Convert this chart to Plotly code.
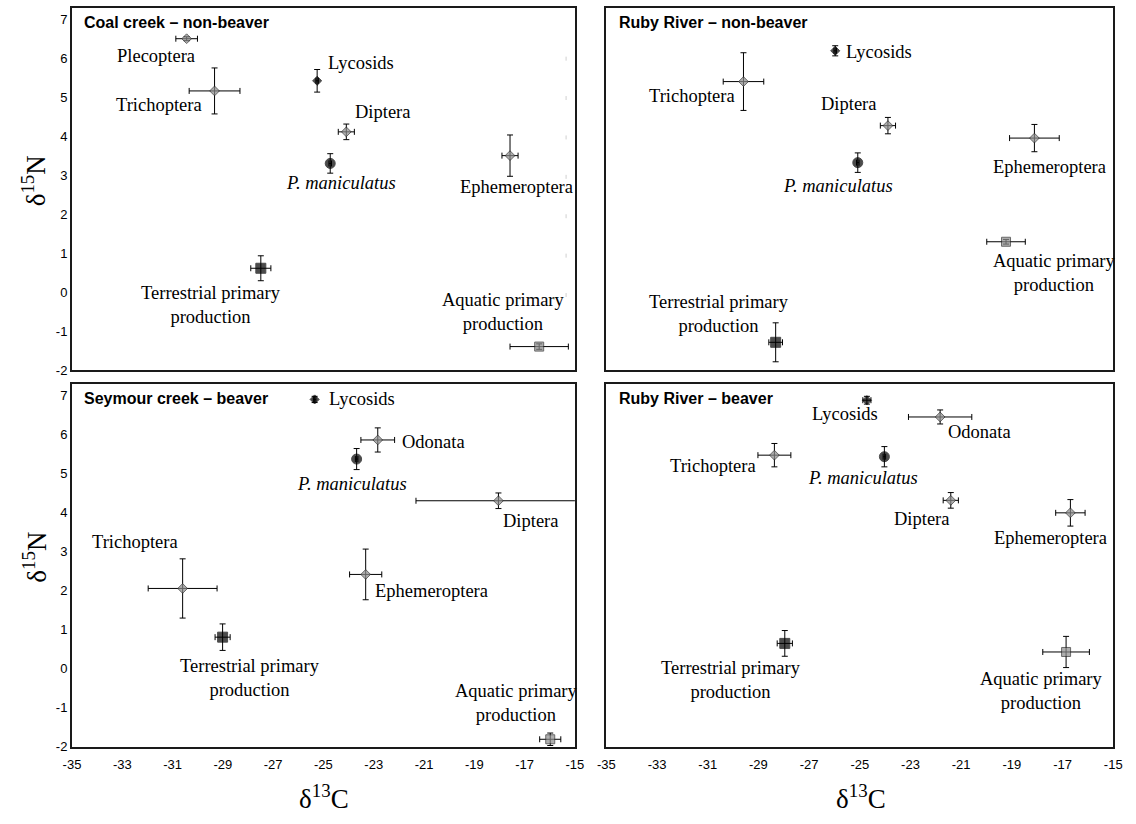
import plotly.graph_objects as go

# ---------------- data ----------------
# Coal creek – non-beaver
cc_names = ["Plecoptera", "Trichoptera", "Lycosids", "Diptera", "P. maniculatus",
            "Ephemeroptera", "Terrestrial primary<br>production", "Aquatic primary<br>production"]
cc_kind = ["taxon", "taxon", "lycosid", "taxon", "mouse", "taxon", "terr", "aqua"]
cc_x = [-30.44, -29.33, -25.25, -24.09, -24.73, -17.58, -27.49, -16.42]
cc_y = [6.51, 5.17, 5.43, 4.12, 3.31, 3.51, 0.62, -1.39]
cc_xerr = [0.43, 1.01, 0.05, 0.32, 0.05, 0.32, 0.40, 1.16]
cc_yerr = [0.05, 0.59, 0.29, 0.20, 0.25, 0.53, 0.32, 0.07]
cc_lx = [-31.67, -31.53, -23.51, -22.67, -24.31, -17.32, -29.47, -17.82]
cc_ly = [6.07, 4.80, 5.88, 4.62, 2.81, 2.70, -0.33, -0.50]

# Ruby River – non-beaver
rn_names = ["Lycosids", "Trichoptera", "Diptera", "Ephemeroptera", "P. maniculatus",
            "Aquatic primary<br>production", "Terrestrial primary<br>production"]
rn_kind = ["lycosid", "taxon", "taxon", "taxon", "mouse", "aqua", "terr"]
rn_x = [-25.97, -29.59, -23.89, -18.11, -25.08, -19.23, -28.32]
rn_y = [6.20, 5.41, 4.28, 3.96, 3.33, 1.30, -1.28]
rn_xerr = [0.05, 0.80, 0.30, 0.98, 0.05, 0.76, 0.27]
rn_yerr = [0.13, 0.74, 0.21, 0.35, 0.25, 0.06, 0.50]
rn_lx = [-24.23, -31.64, -25.45, -17.53, -25.87, -17.30, -30.55]
rn_ly = [6.16, 5.04, 4.84, 3.23, 2.72, 0.50, -0.56]

# Seymour creek – beaver
sc_names = ["Lycosids", "Odonata", "P. maniculatus", "Diptera", "Trichoptera",
            "Ephemeroptera", "Terrestrial primary<br>production", "Aquatic primary<br>production"]
sc_kind = ["lycosid", "taxon", "mouse", "taxon", "taxon", "taxon", "terr", "aqua"]
sc_x = [-25.35, -22.84, -23.68, -18.04, -30.60, -23.32, -29.01, -15.98]
sc_y = [6.91, 5.87, 5.38, 4.31, 2.06, 2.42, 0.81, -1.81]
sc_xerr = [0.05, 0.67, 0.05, 3.28, 1.37, 0.64, 0.30, 0.42]
sc_yerr = [0.08, 0.31, 0.27, 0.20, 0.76, 0.65, 0.34, 0.16]
sc_lx = [-23.47, -20.61, -23.86, -16.77, -32.51, -20.72, -27.91, -17.34]
sc_ly = [6.91, 5.83, 4.75, 3.80, 3.25, 2.00, -0.23, -0.88]

# Ruby River – beaver
rb_names = ["Lycosids", "Odonata", "Trichoptera", "P. maniculatus", "Diptera",
            "Ephemeroptera", "Terrestrial primary<br>production", "Aquatic primary<br>production"]
rb_kind = ["lycosid", "taxon", "taxon", "mouse", "taxon", "taxon", "terr", "aqua"]
rb_x = [-24.72, -21.83, -28.37, -24.03, -21.41, -16.69, -27.96, -16.86]
rb_y = [6.89, 6.46, 5.48, 5.44, 4.32, 4.00, 0.65, 0.43]
rb_xerr = [0.16, 1.25, 0.65, 0.05, 0.30, 0.58, 0.30, 0.92]
rb_yerr = [0.10, 0.18, 0.30, 0.26, 0.20, 0.34, 0.33, 0.40]
rb_lx = [-25.59, -20.28, -30.79, -24.88, -22.58, -17.47, -30.09, -17.85]
rb_ly = [6.53, 6.07, 5.20, 4.90, 3.85, 3.35, -0.30, -0.57]

panel_titles = ["Coal creek – non-beaver", "Ruby River – non-beaver",
                "Seymour creek – beaver", "Ruby River – beaver"]

x_ticks = [-35, -33, -31, -29, -27, -25, -23, -21, -19, -17, -15]
x_tick_text = ["-35", "-33", "-31", "-29", "-27", "-25", "-23", "-21", "-19", "-17", "-15"]
y_ticks = [-2, -1, 0, 1, 2, 3, 4, 5, 6, 7]
y_tick_text = ["-2", "-1", "0", "1", "2", "3", "4", "5", "6", "7"]

# ---------------- styles ----------------
STYLE = {
    "taxon":   dict(symbol="diamond", color="#8c8c8c", size=7.5, line="#2a2a2a"),
    "lycosid": dict(symbol="diamond", color="#000000", size=7, line="#000000"),
    "mouse":   dict(symbol="circle", color="#000000", size=10, line="#000000"),
    "terr":    dict(symbol="square", color="#000000", size=10, line="#000000"),
    "aqua":    dict(symbol="square", color="#8c8c8c", size=9, line="#2a2a2a"),
}

panels = [
    (cc_names, cc_kind, cc_x, cc_y, cc_xerr, cc_yerr, cc_lx, cc_ly),
    (rn_names, rn_kind, rn_x, rn_y, rn_xerr, rn_yerr, rn_lx, rn_ly),
    (sc_names, sc_kind, sc_x, sc_y, sc_xerr, sc_yerr, sc_lx, sc_ly),
    (rb_names, rb_kind, rb_x, rb_y, rb_xerr, rb_yerr, rb_lx, rb_ly),
]

W, H = 1136, 824
xdom_px = [(64, 575), (607, 1122)]
ydom_px = [(8, 374), (388, 754)]

def xdom(i):
    a, b = xdom_px[i]
    return [a / W, b / W]

def ydom(j):
    t, b = ydom_px[j]
    return [1 - b / H, 1 - t / H]

fig = go.Figure()
annotations = []
SERIF = "Liberation Serif, Times New Roman, serif"
SANS = "Liberation Sans, Arial, sans-serif"

for k, (names, kind, xs, ys, xe, ye, lx, ly) in enumerate(panels):
    col, row = k % 2, k // 2
    ax = "" if k == 0 else str(k + 1)
    xref, yref = "x" + ax, "y" + ax
    fig.add_trace(go.Scatter(
        x=xs, y=ys, mode="markers", xaxis=xref, yaxis=yref, showlegend=False,
        error_x=dict(type="data", array=xe, visible=True, color="black", thickness=1, width=3),
        error_y=dict(type="data", array=ye, visible=True, color="black", thickness=1, width=3),
        marker=dict(
            symbol=[STYLE[t]["symbol"] for t in kind],
            color=[STYLE[t]["color"] for t in kind],
            size=[STYLE[t]["size"] for t in kind],
            line=dict(color=[STYLE[t]["line"] for t in kind], width=1),
        ),
    ))
    for n, tx, ty in zip(names, lx, ly):
        txt = "<i>" + n + "</i>" if n.startswith("P. ") else n
        annotations.append(dict(
            x=tx, y=ty, xref=xref, yref=yref, text=txt, showarrow=False,
            font=dict(family=SERIF, size=18.5, color="black"),
            xanchor="center", yanchor="middle", align="center",
        ))
    annotations.append(dict(
        x=0.02, y=6.93, xref=xref + " domain", yref=yref, text="<b>" + panel_titles[k] + "</b>",
        showarrow=False, font=dict(family=SANS, size=16, color="black"),
        xanchor="left", yanchor="middle",
    ))
    axis_common = dict(showgrid=False, zeroline=False, ticks="", showline=True, mirror=True,
                       linecolor="#1a1a1a", linewidth=2)
    fig.update_layout(**{
        ("xaxis" + ax): dict(domain=xdom(col), range=[-35, -15], anchor=yref,
                             tickvals=x_ticks, ticktext=x_tick_text, showticklabels=(row == 1),
                             ticklabelstandoff=5,
                             tickfont=dict(family=SANS, size=13, color="black"), **axis_common),
        ("yaxis" + ax): dict(domain=ydom(row), range=[-2, 7.3], anchor=xref,
                             tickvals=y_ticks, ticktext=y_tick_text, showticklabels=(col == 0),
                             tickfont=dict(family=SANS, size=13, color="black"), **axis_common),
    })

# faint dashed remnant line near the right edge of the first panel
fig.add_shape(type="line", xref="x", yref="y", x0=-15.35, x1=-15.35, y0=6.05, y1=-0.2,
              line=dict(color="#cfcfcf", width=1, dash="4px,35.4px"))

# axis titles
for yc in [183, 563]:
    annotations.append(dict(x=25.5 / W, y=1 - yc / H, xref="paper", yref="paper",
                            text="δ<sup>15</sup>N", textangle=-90, showarrow=False,
                            font=dict(family=SERIF, size=27, color="black"),
                            xanchor="center", yanchor="middle"))
for xc in [320, 866]:
    annotations.append(dict(x=xc / W, y=1 - 805 / H, xref="paper", yref="paper",
                            text="δ<sup>13</sup>C", showarrow=False,
                            font=dict(family=SERIF, size=27, color="black"),
                            xanchor="center", yanchor="middle"))

fig.update_layout(width=W, height=H, margin=dict(l=0, r=0, t=0, b=0),
                  paper_bgcolor="white", plot_bgcolor="white", annotations=annotations)

fig.write_html("out.html")
